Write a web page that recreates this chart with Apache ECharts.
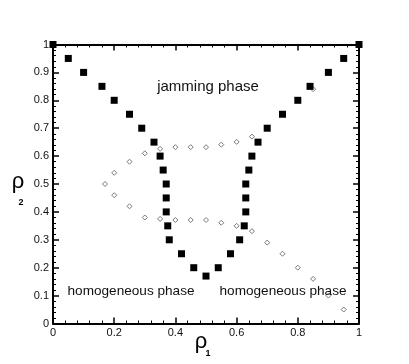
<!DOCTYPE html>
<html>
<head>
<meta charset="utf-8">
<script src="https://cdn.jsdelivr.net/npm/echarts@6/dist/echarts.min.js"></script>
<style>
html,body{margin:0;padding:0;background:#fff;}
#chart{width:409px;height:364px;}
</style>
</head>
<body>
<div id="chart"></div>
<script>
// Jamming boundary (filled squares)
var jamX = [0, 0.05, 0.1, 0.16, 0.2, 0.25, 0.29, 0.33, 0.35, 0.36, 0.37, 0.37, 0.37, 0.375, 0.38, 0.42, 0.46, 0.5, 0.54, 0.58, 0.61, 0.625, 0.63, 0.63, 0.63, 0.64, 0.65, 0.67, 0.70, 0.75, 0.8, 0.84, 0.9, 0.95, 1];
var jamY = [1, 0.95, 0.9, 0.85, 0.8, 0.75, 0.7, 0.65, 0.6, 0.55, 0.5, 0.45, 0.4, 0.35, 0.3, 0.25, 0.2, 0.17, 0.2, 0.25, 0.3, 0.35, 0.4, 0.45, 0.5, 0.55, 0.6, 0.65, 0.7, 0.75, 0.8, 0.85, 0.9, 0.95, 1];
// Open diamonds
var diaX = [0.17, 0.2, 0.25, 0.3, 0.35, 0.4, 0.45, 0.5, 0.55, 0.6, 0.65,
            0.2, 0.25, 0.3, 0.35, 0.4, 0.45, 0.5, 0.55, 0.6, 0.65, 0.7, 0.75, 0.8, 0.85, 0.9, 0.95,
            0.85];
var diaY = [0.5, 0.54, 0.58, 0.61, 0.626, 0.632, 0.632, 0.632, 0.641, 0.651, 0.67,
            0.46, 0.42, 0.38, 0.375, 0.371, 0.371, 0.371, 0.361, 0.35, 0.331, 0.29, 0.25, 0.2, 0.16, 0.1, 0.05,
            0.84];
var xTicks = [0, 0.2, 0.4, 0.6, 0.8, 1];
var yTicks = [0, 0.1, 0.2, 0.3, 0.4, 0.5, 0.6, 0.7, 0.8, 0.9, 1];

function pairs(xs, ys) { return xs.map(function (x, i) { return [x, ys[i]]; }); }

var FONT = 'Liberation Sans';
function axis(pos, interval, showLabel) {
  return {
    type: 'value', position: pos, min: 0, max: 1, interval: interval,
    axisLine: { show: true, onZero: false, lineStyle: { color: '#000', width: 2 } },
    axisTick: { show: true, inside: true, length: 6, lineStyle: { color: '#000', width: 1.5 } },
    minorTick: { show: true, splitNumber: 5, length: 3, lineStyle: { color: '#000', width: 1 } },
    splitLine: { show: false },
    axisLabel: { show: showLabel, color: '#111', fontFamily: FONT, fontSize: 11, margin: 4 }
  };
}

var chart = echarts.init(document.getElementById('chart'));
chart.setOption({
  animation: false,
  grid: { left: 53, right: 50, top: 44.5, bottom: 40.5 },
  xAxis: [axis('bottom', 0.2, true), axis('top', 0.2, false)],
  yAxis: [axis('left', 0.1, true), axis('right', 0.1, false)],
  series: [
    {
      type: 'scatter', xAxisIndex: 0, yAxisIndex: 0, clip: false,
      symbol: 'diamond', symbolSize: 5,
      itemStyle: { color: '#fff', borderColor: '#777', borderWidth: 1, opacity: 1 },
      data: pairs(diaX, diaY), z: 2
    },
    {
      type: 'scatter', xAxisIndex: 0, yAxisIndex: 0, clip: false,
      symbol: 'rect', symbolSize: 7,
      itemStyle: { color: '#000', opacity: 1 },
      data: pairs(jamX, jamY), z: 3
    }
  ],
  graphic: [
    { type: 'text', x: 208, y: 87, z: 10, style: { text: 'jamming phase', fontFamily: FONT, fontSize: 15, fill: '#111', align: 'center', verticalAlign: 'middle' } },
    { type: 'text', x: 131, y: 291, z: 10, style: { text: 'homogeneous phase', fontFamily: FONT, fontSize: 13.6, fill: '#111', align: 'center', verticalAlign: 'middle' } },
    { type: 'text', x: 283, y: 291, z: 10, style: { text: 'homogeneous phase', fontFamily: FONT, fontSize: 13.6, fill: '#111', align: 'center', verticalAlign: 'middle' } },
    { type: 'text', x: 201, y: 342, z: 10, style: { text: 'ρ', fontFamily: FONT, fontSize: 22, fill: '#000', align: 'center', verticalAlign: 'middle' } },
    { type: 'text', x: 208, y: 354, z: 10, style: { text: '1', fontFamily: FONT, fontSize: 9, fontWeight: 'bold', fill: '#000', align: 'center', verticalAlign: 'middle' } },
    { type: 'text', x: 18, y: 182, z: 10, style: { text: 'ρ', fontFamily: FONT, fontSize: 22, fill: '#000', align: 'center', verticalAlign: 'middle' } },
    { type: 'text', x: 21, y: 203, z: 10, style: { text: '2', fontFamily: FONT, fontSize: 9, fontWeight: 'bold', fill: '#000', align: 'center', verticalAlign: 'middle' } }
  ]
});
</script>
</body>
</html>
